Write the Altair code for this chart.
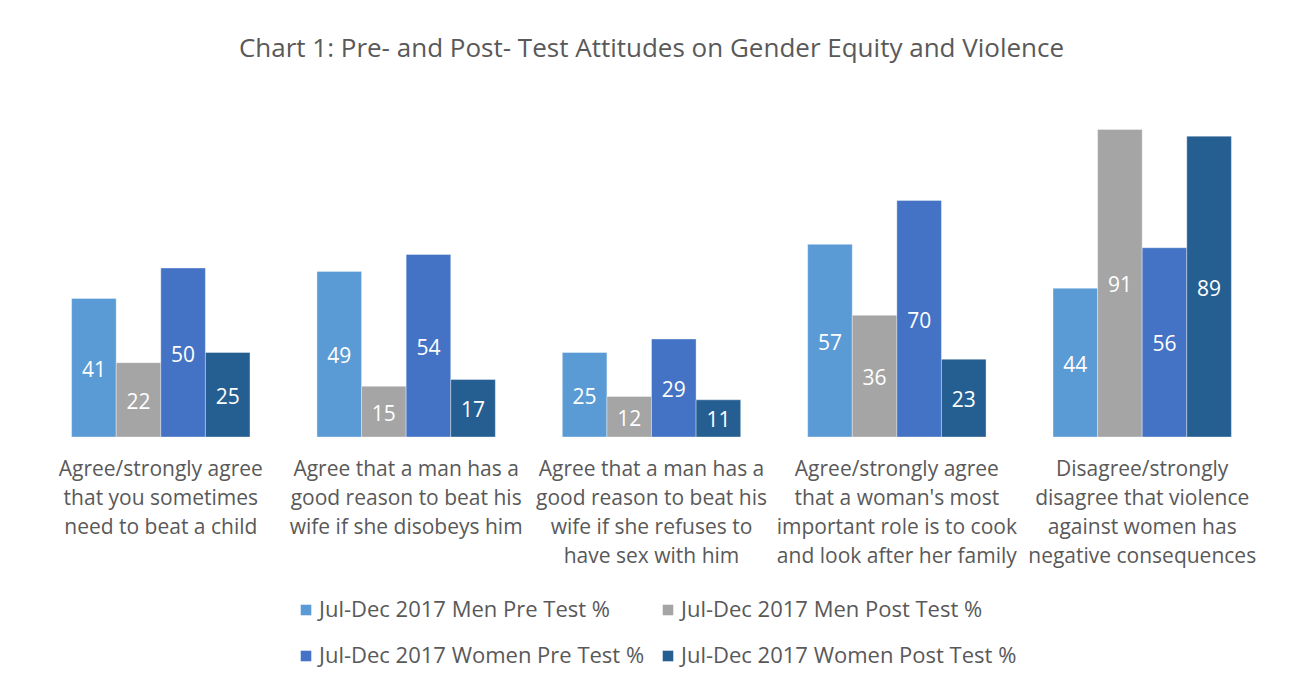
import altair as alt
import pandas as pd

categories = [
    "Agree/strongly agree|that you sometimes|need to beat a child",
    "Agree that a man has a|good reason to beat his|wife if she disobeys him",
    "Agree that  a man has a|good reason to beat his|wife if she refuses to|have sex with him",
    "Agree/strongly agree|that a woman's most|important role is to cook|and look after her family",
    "Disagree/strongly|disagree that violence|against women has|negative consequences",
]
series = [
    "Jul-Dec 2017 Men Pre Test %",
    "Jul-Dec 2017 Men Post Test %",
    "Jul-Dec 2017 Women Pre Test %",
    "Jul-Dec 2017 Women Post Test %",
]
men_pre = [41, 49, 25, 57, 44]
men_post = [22, 15, 12, 36, 91]
women_pre = [50, 54, 29, 70, 56]
women_post = [25, 17, 11, 23, 89]
colors = ["#5B9BD5", "#A5A5A5", "#4472C4", "#255E91"]

rows = []
for s, vals in zip(series, [men_pre, men_post, women_pre, women_post]):
    for c, v in zip(categories, vals):
        rows.append({"category": c, "series": s, "value": v})
df = pd.DataFrame(rows)

FONT = "Open Sans"
TXT = "#595959"

x = alt.X(
    "category:N",
    sort=categories,
    title=None,
    scale=alt.Scale(paddingInner=0.273, paddingOuter=0.137),
    axis=alt.Axis(
        domain=False,
        ticks=False,
        labelAngle=0,
        labelExpr="split(datum.label, '|')",
        labelFontSize=21,
        labelLineHeight=29,
        labelColor=TXT,
        labelFont=FONT,
        labelPadding=21,
        labelBaseline="top",
        labelLimit=400,
    ),
)
xo = alt.XOffset("series:N", sort=series)
y = alt.Y("value:Q", scale=alt.Scale(domain=[0, 100]), axis=None)

bars = alt.Chart(df).mark_bar(stroke="white", strokeWidth=0.6, strokeOpacity=0.6).encode(
    x=x,
    xOffset=xo,
    y=y,
    color=alt.Color(
        "series:N",
        sort=series,
        scale=alt.Scale(domain=series, range=colors),
        legend=alt.Legend(
            title=None,
            orient="none",
            legendX=257,
            legendY=500,
            direction="horizontal",
            columns=2,
            symbolType="square",
            symbolSize=112,
            symbolStrokeWidth=0,
            labelFontSize=22,
            labelFont=FONT,
            labelColor=TXT,
            labelOffset=2,
            rowPadding=24,
            columnPadding=12,
            labelLimit=400,
        ),
    ),
)

labels = alt.Chart(df).transform_calculate(mid="datum.value / 2").mark_text(
    color="white", fontSize=21, font=FONT, baseline="middle", dy=3
).encode(
    x=alt.X("category:N", sort=categories),
    xOffset=xo,
    y=alt.Y("mid:Q", scale=alt.Scale(domain=[0, 100])),
    text="value:Q",
)

chart = (
    alt.layer(bars, labels)
    .properties(
        width=1227,
        height=338,
        padding={"left": 30, "top": 28, "right": 19, "bottom": 2},
        title=alt.TitleParams(
            "Chart 1: Pre- and Post- Test Attitudes on Gender Equity and Violence",
            fontSize=26,
            font=FONT,
            fontWeight="normal",
            color=TXT,
            offset=37,
        ),
    )
    .configure_view(stroke=None)
)

chart.save("out.html", embed_options={"renderer": "svg", "actions": False})
